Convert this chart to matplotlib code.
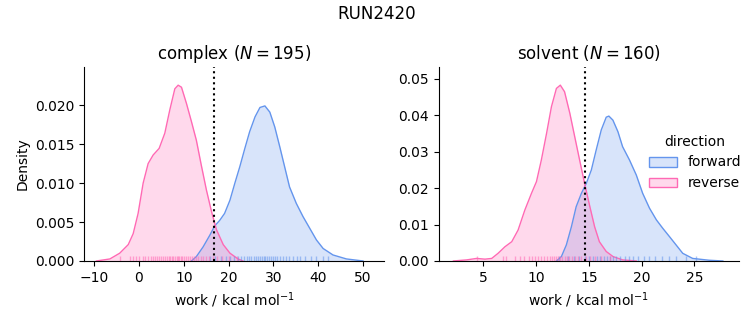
import numpy as np
import matplotlib.pyplot as plt
from matplotlib.patches import Patch
from matplotlib.colors import to_rgba

# density curves (x = work, y = density)
cx_rev = [-9.5, -6.5, -4.3, -2.4, -1.3, -0.2, 0.93, 2.04, 3.16, 4.5, 5.76, 6.88, 8.0, 8.74, 9.48, 10.6, 11.7,
          12.8, 13.9, 15.05, 16.2, 17.3, 18.8, 20.3, 22.1, 23.2]
cy_rev = [0, 0.00026, 0.001, 0.0021, 0.0035, 0.0061, 0.0100, 0.0125, 0.0136, 0.01445, 0.0164, 0.0194, 0.0221,
          0.02256, 0.0223, 0.0202, 0.0179, 0.0155, 0.0123, 0.0091, 0.0063, 0.0040, 0.0021, 0.001, 0.00026, 0]
cx_fwd = [11.7, 12.8, 14.3, 15.8, 16.9, 18.0, 19.1, 20.3, 21.4, 22.5, 23.6, 24.7, 25.9, 27.0, 28.1, 29.2, 30.3,
          31.4, 32.5, 33.6, 35.1, 36.6, 38.1, 39.6, 41.1, 43.3, 46.3, 50.0]
cy_fwd = [0, 0.00056, 0.0018, 0.0033, 0.0045, 0.0052, 0.0061, 0.0078, 0.0100, 0.0121, 0.0144, 0.0166, 0.0185,
          0.0197, 0.0199, 0.0191, 0.0172, 0.0147, 0.0121, 0.0095, 0.0074, 0.0057, 0.0042, 0.0027, 0.0016,
          0.00077, 0.00026, 0]

sx_rev = [2.17, 3.43, 4.37, 5.16, 5.8, 6.4, 7.05, 7.7, 8.3, 8.94, 9.57, 10.04, 10.5, 11.0, 11.46, 11.93, 12.3,
          12.7, 13.2, 13.66, 14.13, 14.6, 15.1, 15.55, 16.0, 16.65, 17.3, 18.2, 19.5]
sy_rev = [0, 0.0003, 0.0007, 0.0005, 0.0007, 0.0021, 0.0039, 0.0053, 0.0085, 0.014, 0.0186, 0.0218, 0.0277,
          0.0351, 0.0424, 0.0474, 0.0483, 0.0465, 0.0406, 0.0342, 0.0277, 0.0213, 0.0149, 0.0094, 0.0053,
          0.0026, 0.0012, 0.0003, 0]
sx_fwd = [11.93, 12.4, 12.87, 13.35, 13.8, 14.3, 14.76, 15.24, 15.7, 16.18, 16.65, 16.9, 17.28, 17.76, 18.2,
          18.86, 19.5, 20.1, 20.75, 21.4, 22.0, 22.64, 23.27, 23.9, 24.84, 26.4, 27.7]
sy_fwd = [0, 0.0012, 0.0044, 0.0094, 0.0149, 0.0186, 0.0213, 0.025, 0.0305, 0.036, 0.0395, 0.0398, 0.0387,
          0.0355, 0.0314, 0.0277, 0.0236, 0.0186, 0.0145, 0.0113, 0.009, 0.0067, 0.0044, 0.0021, 0.0007,
          0.0002, 0]

# rug samples (approximate positions)
rug_c_rev = [-4.3, -2.1, -1.3, -0.6, 0.1, 0.9, 1.4, 2.0, 2.6, 3.1, 3.5, 4.0, 4.4, 4.9, 5.3, 5.8, 6.2, 6.6, 7.0,
             7.3, 7.7, 8.0, 8.4, 8.7, 9.0, 9.3, 9.7, 10.1, 10.5, 10.9, 11.3, 11.8, 12.2, 12.7, 13.2, 13.8, 14.3,
             15.0, 15.7, 16.5, 17.4, 18.6, 20.1, 21.8]
rug_c_fwd = [15.8, 17.0, 18.3, 19.5, 20.4, 21.2, 22.0, 22.7, 23.4, 24.0, 24.6, 25.1, 25.6, 26.1, 26.6, 27.0,
             27.4, 27.8, 28.2, 28.6, 29.0, 29.4, 29.9, 30.4, 30.9, 31.5, 32.1, 32.8, 33.5, 34.3, 35.2, 36.0,
             37.1, 38.3, 39.5, 41.0, 42.2]
rug_s_rev = [4.4, 6.9, 7.2, 8.0, 8.5, 8.9, 9.3, 9.6, 9.9, 10.2, 10.5, 10.8, 11.0, 11.3, 11.5, 11.7, 11.9, 12.1,
             12.3, 12.5, 12.7, 12.9, 13.1, 13.4, 13.7, 14.0, 14.3, 14.7, 15.1, 15.6, 16.2, 17.0]
rug_s_fwd = [12.2, 13.0, 13.6, 14.1, 14.6, 15.0, 15.4, 15.8, 16.1, 16.4, 16.7, 17.0, 17.3, 17.6, 18.0, 18.4,
             18.8, 19.2, 19.7, 20.2, 20.7, 21.3, 21.9, 22.6, 23.3, 24.2, 25.2]

titles = ["complex ($N = 195$)", "solvent ($N = 160$)"]
cutoffs = [16.77, 14.6]
blue = "cornflowerblue"
pink = "hotpink"

fig, axes = plt.subplots(1, 2, figsize=(7.53, 3.25), dpi=100)
fig.subplots_adjust(left=0.112, right=0.981, bottom=0.197, top=0.794, wspace=0.183)

panels = [
    (cx_fwd, cy_fwd, cx_rev, cy_rev, rug_c_fwd, rug_c_rev),
    (sx_fwd, sy_fwd, sx_rev, sy_rev, rug_s_fwd, rug_s_rev),
]

for ax, (xf, yf, xr, yr, rf, rr), title, cut in zip(axes, panels, titles, cutoffs):
    ax.fill_between(xf, yf, color=blue, alpha=0.25, lw=0)
    ax.plot(xf, yf, color=blue, lw=1)
    ax.fill_between(xr, yr, color=pink, alpha=0.25, lw=0)
    ax.plot(xr, yr, color=pink, lw=1)
    tr = ax.get_xaxis_transform()
    ax.vlines(rf, 0, 0.025, transform=tr, color=blue, alpha=0.55, lw=1)
    ax.vlines(rr, 0, 0.025, transform=tr, color=pink, alpha=0.55, lw=1)
    ax.axvline(cut, color="black", ls=":", lw=1.5)
    ax.set_title(title)
    ax.set_xlabel("work / kcal mol$^{-1}$")
    ax.spines["top"].set_visible(False)
    ax.spines["right"].set_visible(False)

axes[0].set_xlim(-12.2, 54.7)
axes[0].set_ylim(0, 0.0249)
axes[0].set_xticks([-10, 0, 10, 20, 30, 40, 50])
axes[0].set_yticks([0, 0.005, 0.01, 0.015, 0.02])
axes[0].set_yticklabels(["0.000", "0.005", "0.010", "0.015", "0.020"])
axes[0].set_ylabel("Density")

axes[1].set_xlim(0.8, 29.2)
axes[1].set_ylim(0, 0.0533)
axes[1].set_xticks([5, 10, 15, 20, 25])
axes[1].set_yticks([0, 0.01, 0.02, 0.03, 0.04, 0.05])
axes[1].set_yticklabels(["0.00", "0.01", "0.02", "0.03", "0.04", "0.05"])

handles = [Patch(facecolor=to_rgba(blue, 0.25), edgecolor=blue),
           Patch(facecolor=to_rgba(pink, 0.25), edgecolor=pink)]
leg = fig.legend(handles, ["forward", "reverse"], title="direction", loc="center left",
                 bbox_to_anchor=(0.845, 0.5), frameon=False)

fig.suptitle("RUN2420", y=0.985)
fig.savefig("out.png")
